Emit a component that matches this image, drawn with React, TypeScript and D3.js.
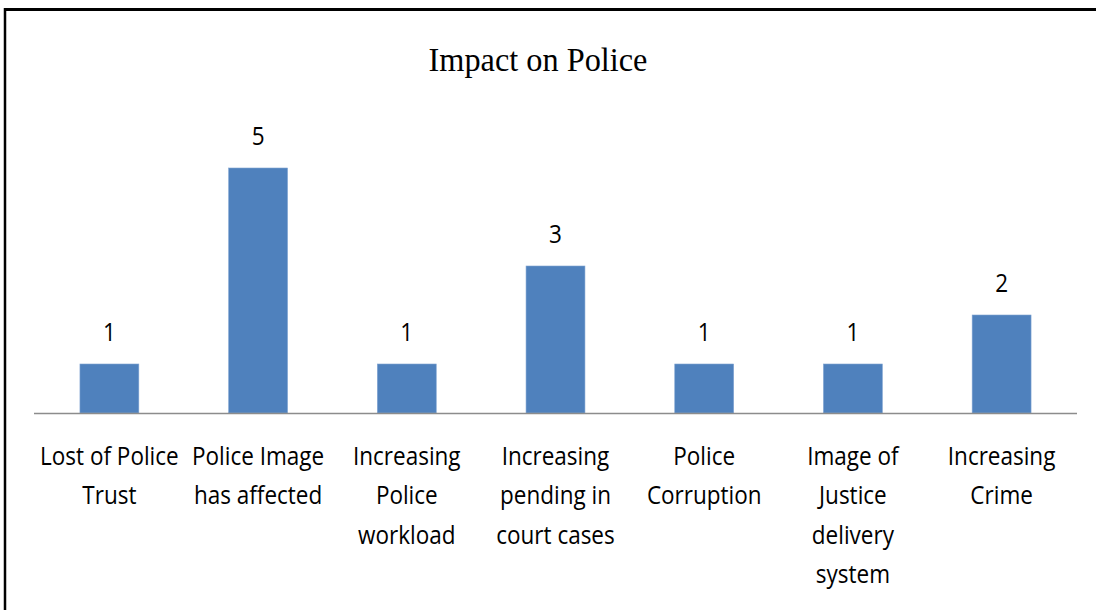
import React from "react";
import * as d3 from "d3";

const categories: string[][] = [
  ["Lost of Police", "Trust"],
  ["Police Image", "has affected"],
  ["Increasing", "Police", "workload"],
  ["Increasing", "pending in", "court cases"],
  ["Police", "Corruption"],
  ["Image of", "Justice", "delivery", "system"],
  ["Increasing", "Crime"],
];
const values: number[] = [1, 5, 1, 3, 1, 1, 2];
const title = "Impact on Police";

const W = 1096;
const H = 610;

export default function App() {
  const keys = categories.map((c) => c.join(" "));
  const x = d3
    .scaleBand<string>()
    .domain(keys)
    .range([34, 1077])
    .paddingInner(0.604)
    .paddingOuter(0.309);
  const y = d3.scaleLinear().domain([0, 6]).range([413, 119]);
  const labelFont = "'Open Sans', sans-serif";
  const sx = 0.9;
  return (
    <svg
      width={W}
      height={H}
      style={{ position: "absolute", left: 0, top: 0, background: "#fff" }}
    >
      <rect x={0} y={0} width={W} height={H} fill="#fff" />
      <line x1={5} y1={9.5} x2={W} y2={9.5} stroke="#000" strokeWidth={3} />
      <line x1={5} y1={8} x2={5} y2={H} stroke="#000" strokeWidth={2.5} />
      <text
        x={538}
        y={71}
        textAnchor="middle"
        fontFamily="'Liberation Serif', 'Times New Roman', serif"
        fontSize={34}
        fill="#000"
        transform={`translate(538,0) scale(0.95,1) translate(-538,0)`}
      >
        {title}
      </text>
      {values.map((v, i) => {
        const k = keys[i];
        const bx = x(k)!;
        const cx = bx + x.bandwidth() / 2;
        return (
          <g key={k}>
            <rect
              x={bx}
              y={y(v)}
              width={x.bandwidth()}
              height={y(0) - y(v)}
              fill="#4F81BD"
              stroke="#7FA3D1"
              strokeWidth={0.6}
            />
            <text
              x={cx}
              y={y(v) - 23}
              textAnchor="middle"
              fontFamily={labelFont}
              fontSize={25}
              fill="#000"
              transform={`translate(${cx},0) scale(${sx},1) translate(${-cx},0)`}
            >
              {v}
            </text>
          </g>
        );
      })}
      <line x1={34} y1={413.5} x2={1077} y2={413.5} stroke="#8C8C8C" strokeWidth={1.5} />
      {categories.map((lines, i) => {
        const cx = x(keys[i])! + x.bandwidth() / 2;
        return (
          <text
            key={keys[i]}
            textAnchor="middle"
            fontFamily={labelFont}
            fontSize={25}
            fill="#000"
            transform={`translate(${cx},0) scale(${sx},1) translate(${-cx},0)`}
          >
            {lines.map((ln, j) => (
              <tspan key={j} x={cx} y={465 + j * 39.5}>
                {ln}
              </tspan>
            ))}
          </text>
        );
      })}
    </svg>
  );
}
